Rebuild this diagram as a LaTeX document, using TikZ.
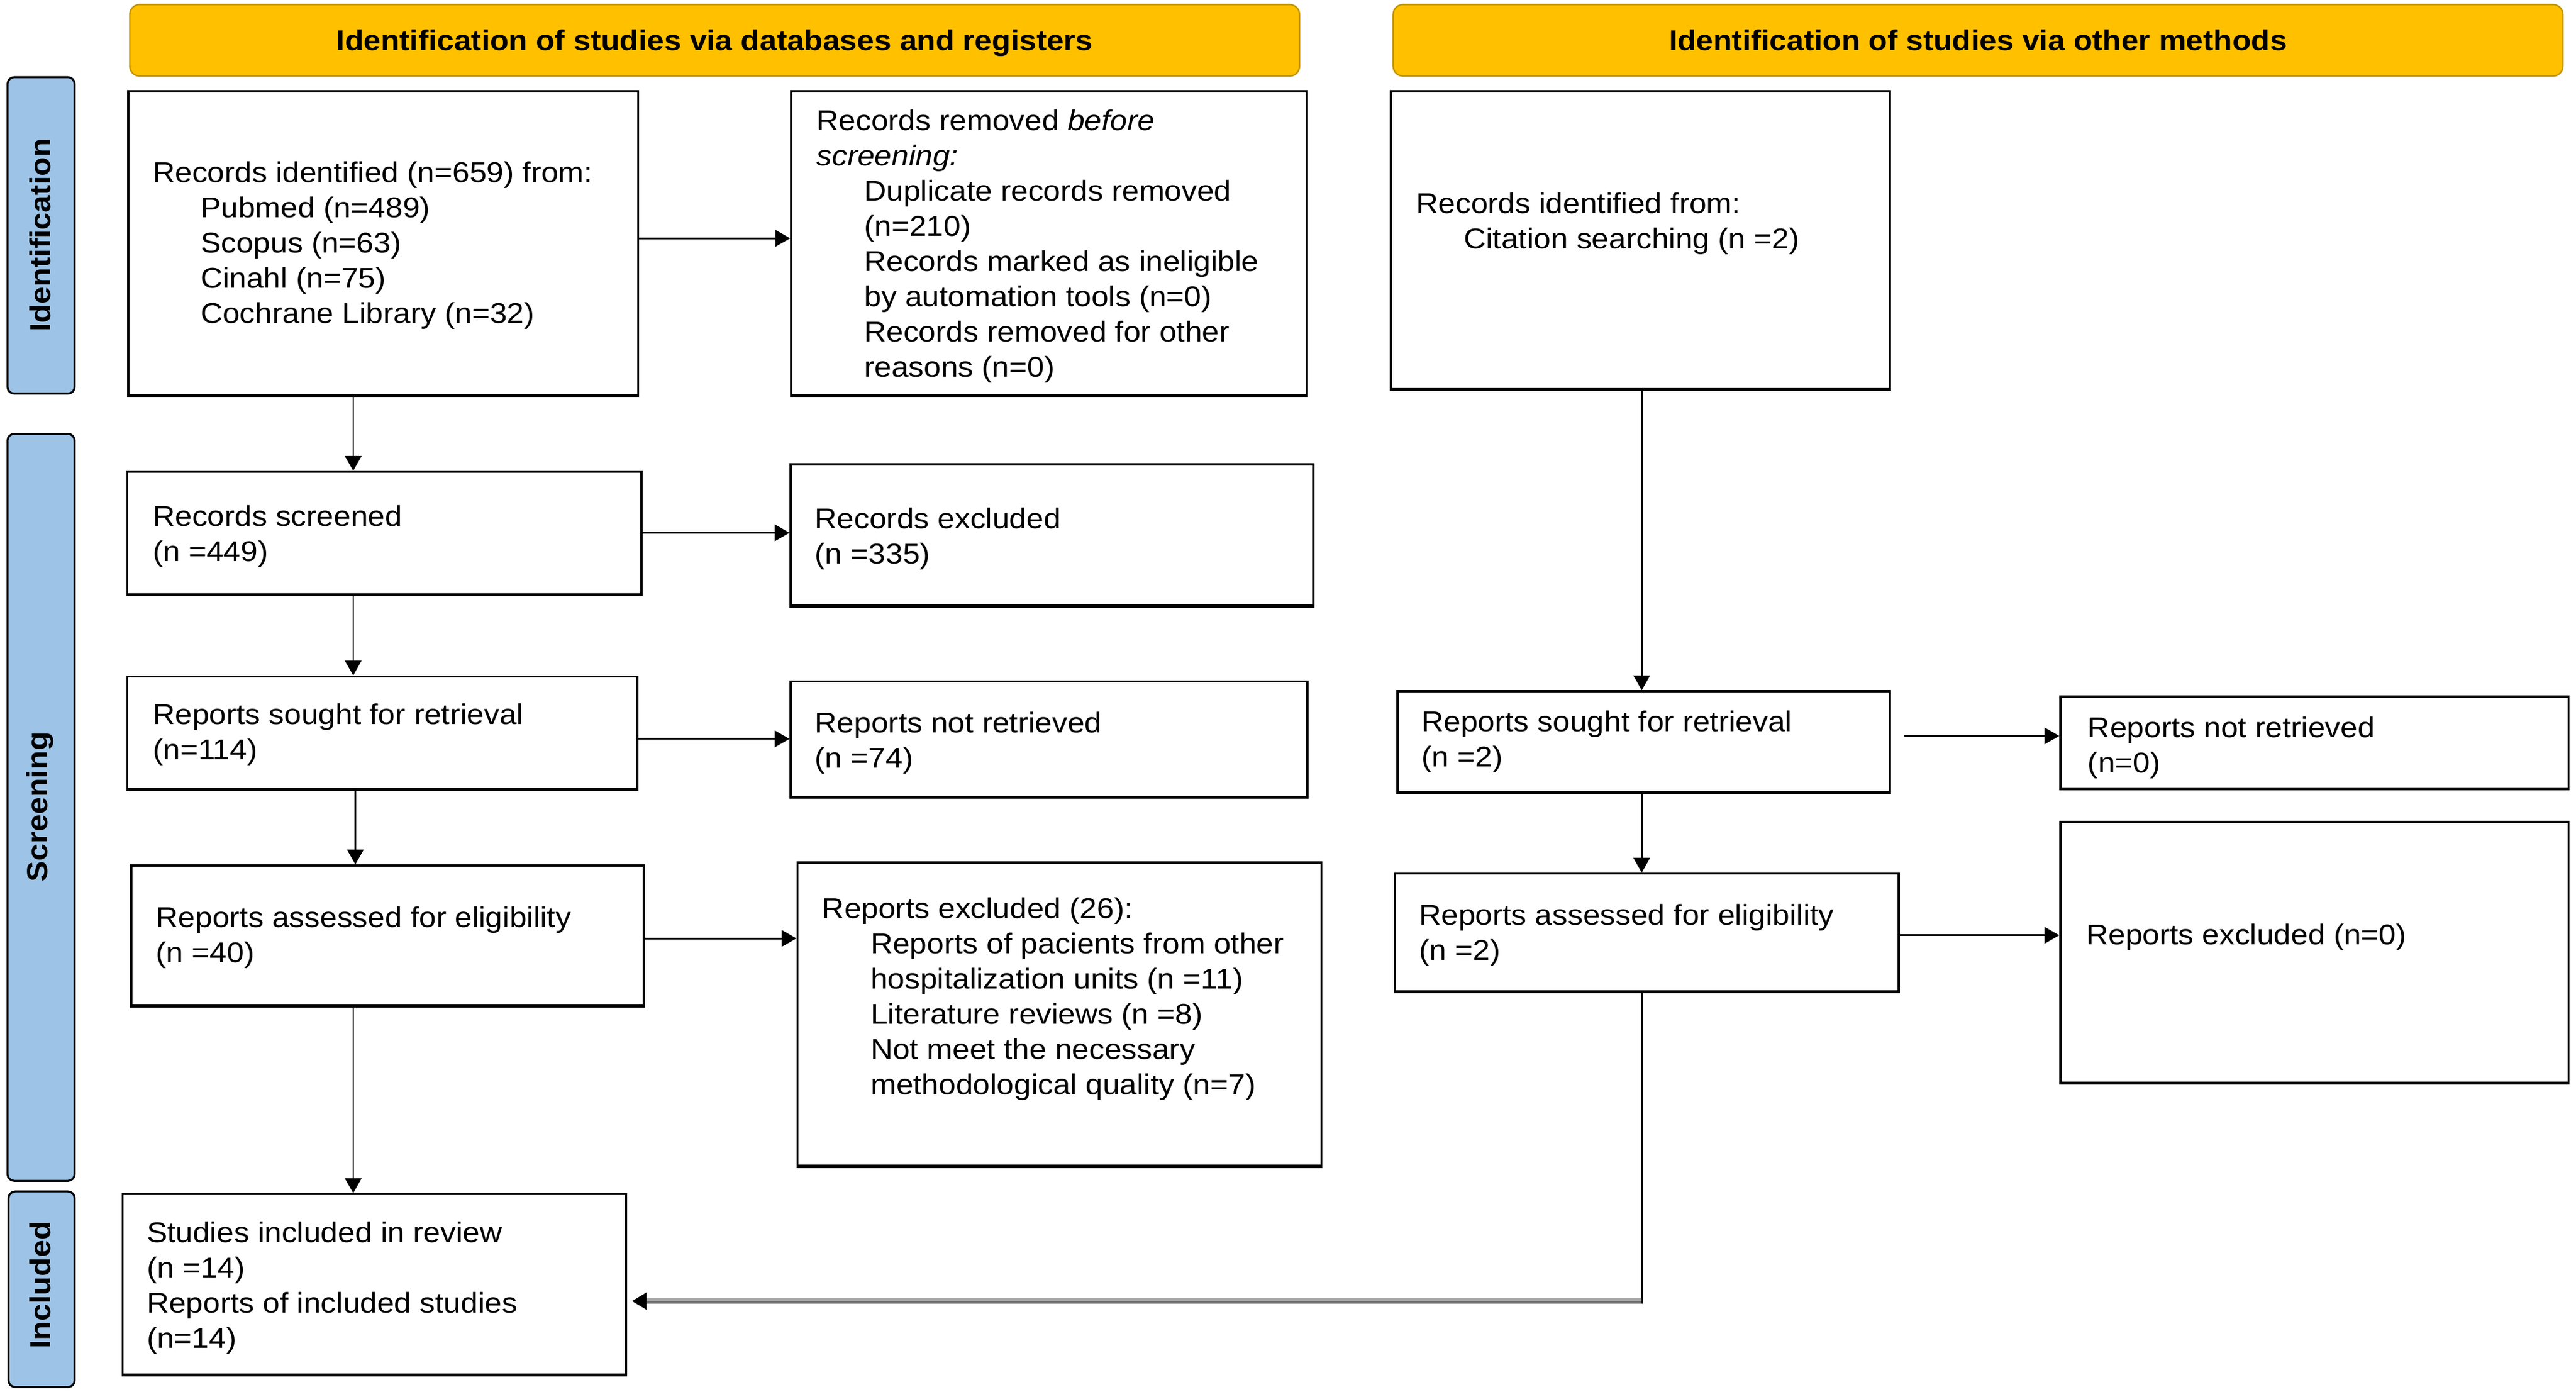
\documentclass[tikz,border=0pt]{standalone}
\usepackage{fontspec}
\setmainfont{Liberation Sans}[FakeStretch=1.075]
\usetikzlibrary{arrows.meta,fit}
\definecolor{hdr}{HTML}{FFC000}
\definecolor{hdrline}{HTML}{C39500}
\definecolor{side}{HTML}{9DC3E6}
\definecolor{grayA}{HTML}{A6A6A6}
\definecolor{grayB}{HTML}{6E6E6E}
\begin{document}
\begin{tikzpicture}[x=1mm,y=-1mm,
  box/.style={draw=black, line width=1.25mm, inner sep=0pt, fill=white,
    path picture={\draw[line width=2.6mm] (path picture bounding box.south west) -- (path picture bounding box.south east);}},
  sidebar/.style={draw=black, line width=1.2mm, fill=side, rounded corners=4mm, inner sep=0pt},
  header/.style={draw=hdrline, line width=0.9mm, fill=hdr, rounded corners=6mm, inner sep=0pt},
  txt/.style={anchor=base west, inner sep=0pt, font=\fontsize{49.5pt}{60.9pt}\selectfont},
  hdrtxt/.style={anchor=base, inner sep=0pt, font=\fontsize{49.5pt}{60.9pt}\selectfont\bfseries},
  sidetxt/.style={rotate=90, inner sep=0pt, font=\fontsize{50pt}{60pt}\selectfont\bfseries},
  harr/.style={line width=1.1mm, -{Triangle[length=9mm,width=10mm]}},
  varr/.style={line width=0.9mm, -{Triangle[length=9mm,width=10mm]}},
  vline/.style={line width=0.9mm},
]
\useasboundingbox (0,0) rectangle (1568,847);
\fill[white] (0,0) rectangle (1568,847);

% headers
\node[header, fit={(79,2.8) (791,46.3)}] (h1) {};
\node[header, fit={(848,2.8) (1560,46.3)}] (h2) {};
\node[hdrtxt] (h1t) at (435,30.8) {Identification of studies via databases and registers};
\node[hdrtxt] (h2t) at (1204,30.8) {Identification of studies via other methods};

% side bars
\node[sidebar, fit={(4.6,47) (45.4,239.5)}] (s1) {};
\node[sidebar, fit={(4.6,264) (45.4,718.5)}] (s2) {};
\node[sidebar, fit={(5.2,725) (45.4,844)}] (s3) {};
\node[sidetxt] (s1t) at (24.5,143) {Identification};
\node[sidetxt] (s2t) at (24.5,491) {Screening};
\node[sidetxt] (s3t) at (24.5,782) {Included};

% boxes
\node[box, fit={(78.1,55.6) (388.4,240.9)}] (b1) {};
\node[box, fit={(481.6,55.6) (795.4,240.9)}] (b2) {};
\node[box, fit={(846.6,55.6) (1150.4,237.4)}] (b3) {};
\node[box, fit={(77.6,287.1) (390.4,362.4)}] (b4) {};
\node[box, fit={(481.2,282.6) (799.4,369)}] (b5) {};
\node[box, fit={(77.6,411.6) (387.9,480.7)}] (b6) {};
\node[box, fit={(481.2,414.6) (795.8,485.4)}] (b7) {};
\node[box, fit={(79.9,526.6) (391.9,612.4)}] (b8) {};
\node[box, fit={(485.4,524.8) (804.4,710)}] (b9) {};
\node[box, fit={(74.6,726.6) (381,836.9)}] (b10) {};
\node[box, fit={(850.6,420.6) (1150.4,482.4)}] (b11) {};
\node[box, fit={(1254.1,423.9) (1563.4,480.4)}] (b12) {};
\node[box, fit={(849,531.6) (1155.7,603.8)}] (b13) {};
\node[box, fit={(1254.1,500.2) (1563.4,659.4)}] (b14) {};

% texts
\node[txt] (t1) at (93,111) {\parbox[t]{290mm}{Records identified (n=659) from:\\
  \hspace*{29mm}Pubmed (n=489)\\
  \hspace*{29mm}Scopus (n=63)\\
  \hspace*{29mm}Cinahl (n=75)\\
  \hspace*{29mm}Cochrane Library (n=32)}};
\node[txt] (t2) at (497,79.5) {\parbox[t]{290mm}{Records removed \textit{before}\\
  \textit{screening:}\\
  \hspace*{29mm}Duplicate records removed\\
  \hspace*{29mm}(n=210)\\
  \hspace*{29mm}Records marked as ineligible\\
  \hspace*{29mm}by automation tools (n=0)\\
  \hspace*{29mm}Records removed for other\\
  \hspace*{29mm}reasons (n=0)}};
\node[txt] (t3) at (862,129.7) {\parbox[t]{290mm}{Records identified from:\\
  \hspace*{29mm}Citation searching (n =2)}};
\node[txt] (t4) at (93,320.3) {\parbox[t]{290mm}{Records screened\\(n =449)}};
\node[txt] (t5) at (496,321.5) {\parbox[t]{290mm}{Records excluded\\(n =335)}};
\node[txt] (t6) at (93,440.8) {\parbox[t]{290mm}{Reports sought for retrieval\\(n=114)}};
\node[txt] (t7) at (496,446) {\parbox[t]{290mm}{Reports not retrieved\\(n =74)}};
\node[txt] (t8) at (95,564.2) {\parbox[t]{290mm}{Reports assessed for eligibility\\(n =40)}};
\node[txt] (t9) at (500.4,558.9) {\parbox[t]{300mm}{Reports excluded (26):\\
  \hspace*{29.5mm}Reports of pacients from other\\
  \hspace*{29.5mm}hospitalization units (n =11)\\
  \hspace*{29.5mm}Literature reviews (n =8)\\
  \hspace*{29.5mm}Not meet the necessary\\
  \hspace*{29.5mm}methodological quality (n=7)}};
\node[txt] (t10) at (89.3,756.1) {\parbox[t]{290mm}{Studies included in review\\(n =14)\\Reports of included studies\\(n=14)}};
\node[txt] (t11) at (865.2,445) {\parbox[t]{290mm}{Reports sought for retrieval\\(n =2)}};
\node[txt] (t12) at (1270.8,448.7) {\parbox[t]{290mm}{Reports not retrieved\\(n=0)}};
\node[txt] (t13) at (863.8,562.7) {\parbox[t]{290mm}{Reports assessed for eligibility\\(n =2)}};
\node[txt] (t14) at (1269.8,574.7) {Reports excluded (n=0)};

% guide coordinates
\coordinate (ya1) at (0,145);
\coordinate (ya3) at (0,324.2);
\coordinate (ya5) at (0,449.6);
\coordinate (ya7) at (0,571);
\coordinate (ya10) at (0,447.8);
\coordinate (ya12) at (0,569.1);
\coordinate (xl) at (215,0);
\coordinate (xl2) at (216.3,0);
\coordinate (xr) at (999.3,0);
\coordinate (corner) at (999.3,791.7);

% connectors
\draw[harr] (b1.east |- ya1) -- (b2.west |- ya1);
\draw[varr] (b1.south -| xl) -- (b4.north -| xl);
\draw[harr] (b4.east |- ya3) -- (b5.west |- ya3);
\draw[varr] (b4.south -| xl) -- (b6.north -| xl);
\draw[harr] (b6.east |- ya5) -- (b7.west |- ya5);
\draw[varr] (b6.south -| xl2) -- (b8.north -| xl2);
\draw[harr] (b8.east |- ya7) -- (b9.west |- ya7);
\draw[varr] (b8.south -| xl) -- (b10.north -| xl);
\draw[varr] (b3.south -| xr) -- (b11.north -| xr);
\draw[harr, shorten <=8mm] (b11.east |- ya10) -- (b12.west |- ya10);
\draw[varr] (b11.south -| xr) -- (b13.north -| xr);
\draw[harr] (b13.east |- ya12) -- (b14.west |- ya12);
\draw[vline] (b13.south -| xr) -- ([yshift=-1.6mm]corner);
\draw[line width=3.2mm, grayA, shorten >=3mm, -{Triangle[length=9mm,width=10mm,black]}] (corner) -- (b10.east |- corner);
\draw[line width=1.6mm, grayB, shorten >=12mm] ([yshift=-0.8mm]corner) -- ([yshift=-0.8mm]b10.east |- corner);
\end{tikzpicture}
\end{document}
